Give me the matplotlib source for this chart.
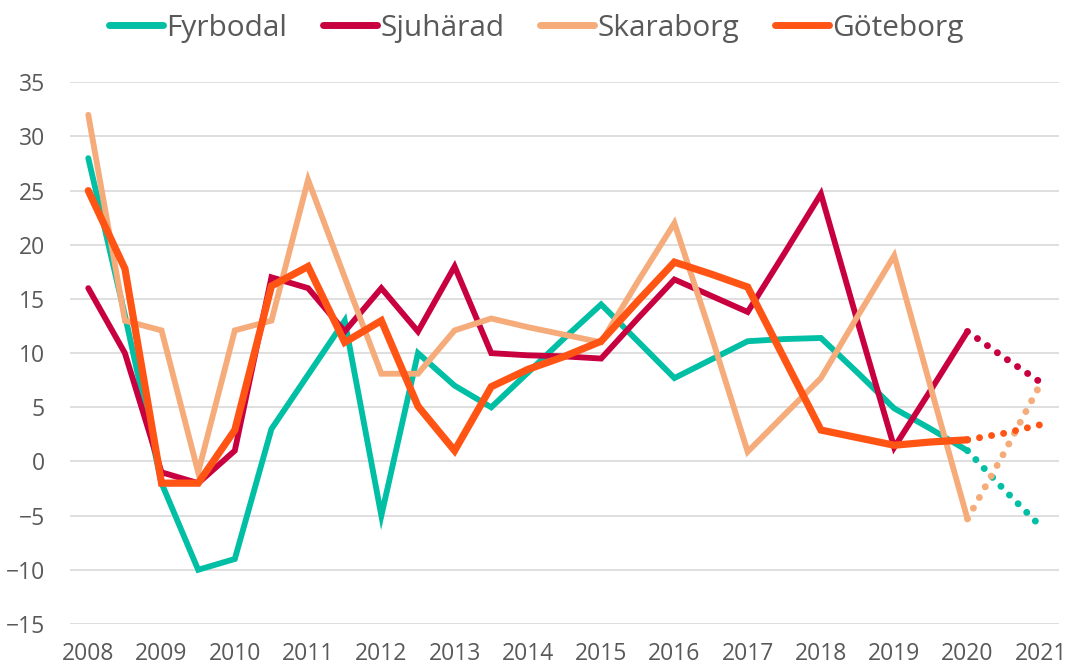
import numpy as np
import matplotlib
matplotlib.use("Agg")
import matplotlib.pyplot as plt

plt.rcParams['font.family'] = ['Open Sans', 'DejaVu Sans']

# halvårsvärden 2008 - 2020
years = list(range(2008, 2022))
fyrbodal = [28, 13.5, -2, -10, -9, 3, 8, 13, -5, 10, 7, 5, 8.2, 11.4, 14.5,
            11.1, 7.7, 9.4, 11.1, 11.3, 11.4, 8.2, 4.9, 3, 1.0]
sjuharad = [16, 10, -1, -2, 1, 17, 16, 12, 16, 12, 18, 10, 9.8, 9.7, 9.5,
            13.2, 16.8, 15.3, 13.8, 19.2, 24.7, 12.9, 1.3, 6.6, 12]
skaraborg = [32, 13, 12.1, -1, 12.1, 13, 26, 17, 8.1, 8.1, 12.1, 13.2, 12.4,
             11.7, 11, 16.6, 22, 11.7, 0.9, 4.3, 7.7, 13.4, 19, 6.8, -5.3]
goteborg = [25, 17.8, -2, -2, 2.9, 16.2, 18, 11, 13, 5.1, 1, 6.9, 8.5, 9.7,
            11.1, 14.8, 18.4, 17.3, 16.1, 9.5, 2.9, 2.2, 1.5, 1.8, 2]

# prognos 2020 - 2021 (prickad)
fyrbodal_prog = [1.0, -2.6, -6]
sjuharad_prog = [12, 9.6, 7.3]
skaraborg_prog = [-5.3, 0.8, 7.2]
goteborg_prog = [2, 2.6, 3.4]

names = ['Fyrbodal', 'Sjuhärad', 'Skaraborg', 'Göteborg']
colors = ['#00BFA5', '#C8003F', '#F5AC7A', '#FF5414']
series = [fyrbodal, sjuharad, skaraborg, goteborg]
progs = [fyrbodal_prog, sjuharad_prog, skaraborg_prog, goteborg_prog]
widths = [4.2, 4.2, 4.2, 5.2]

fig = plt.figure(figsize=(10.73, 6.66), dpi=100)
ax = fig.add_axes([0.0652, 0.0631, 0.9218, 0.8133])

for name, vals, prog, c, lw in zip(names, series, progs, colors, widths):
    x = np.arange(len(vals))
    ax.plot(x, vals, color=c, lw=lw, label=name, solid_capstyle='round',
            solid_joinstyle='miter')
    xp = np.arange(len(vals) - 1, len(vals) - 1 + len(prog))
    ax.plot(xp, prog, color=c, lw=5, linestyle=(0, (0.01, 1.75)),
            dash_capstyle='round')

n = len(fyrbodal) + 2
ax.set_xlim(-0.5, n - 0.5)
ax.set_ylim(-15, 35)
ax.set_yticks(np.arange(-15, 36, 5))
ax.set_xticks(np.arange(0, n, 2))
ax.set_xticklabels([str(y) for y in years])

ax.grid(axis='y', color='#D9D9D9', lw=1.2)
ax.set_axisbelow(True)
for s in ax.spines.values():
    s.set_visible(False)
ax.tick_params(axis='both', length=0, labelsize=16.5, labelcolor='#595959')
ax.tick_params(axis='x', pad=13)
ax.tick_params(axis='y', pad=18)

leg = fig.legend(loc='upper center', bbox_to_anchor=(0.5, 1.02), ncol=4,
                 frameon=False, fontsize=21.5, handlelength=1.8,
                 handletextpad=0.12, columnspacing=1.2)
for t in leg.get_texts():
    t.set_color('#595959')
for h in leg.get_lines():
    h.set_linewidth(5)
    h.set_solid_capstyle('round')

fig.savefig('out.png', dpi=100)
